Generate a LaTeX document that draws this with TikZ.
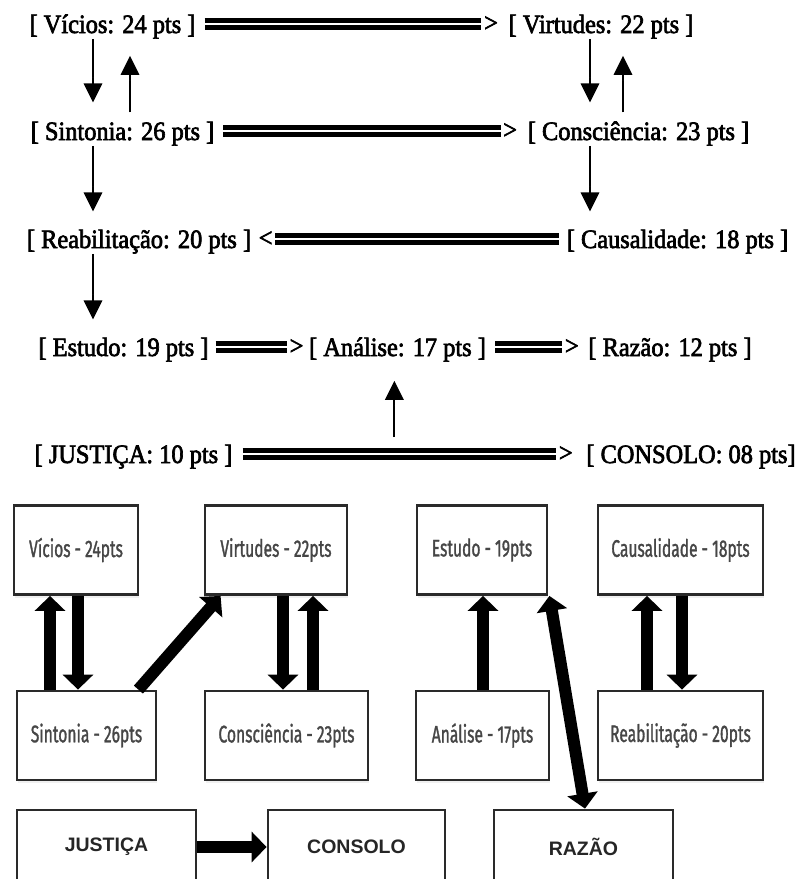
\documentclass[tikz,border=0pt]{standalone}
\usepackage{fontspec}
\usetikzlibrary{arrows.meta,shadows}

\newfontfamily\topfont[FakeStretch=0.92,FakeBold=2.5]{Liberation Serif}
\newfontfamily\boxfont[FakeStretch=0.65,FakeBold=1.2]{Fira Sans}
\newfontfamily\capfont{Liberation Sans}
\definecolor{boxline}{HTML}{2A2A2A}
\definecolor{boxtext}{HTML}{464646}

\tikzset{
  score/.style={font=\topfont\fontsize{26.5}{30}\selectfont, inner sep=0pt, anchor=base},
  gt/.style={font=\topfont\fontsize{26.5}{30}\selectfont, inner sep=0pt, anchor=west},
  lt/.style={gt, anchor=east},
  dline/.style={double, line width=5.4pt, double distance=1.7pt},
  tarrow/.style={line width=1.8pt,
    -{Triangle[length=0.1pt,width=0.1pt,sep=6pt,color=white] Triangle[length=19pt,width=18.5pt]}},
  card/.style={draw=boxline, line width=2.8pt, fill=white, minimum height=89pt,
    font=\boxfont\fontsize{24}{26}\selectfont, text=boxtext,
    drop shadow={opacity=0.12, shadow xshift=1pt, shadow yshift=-3pt}},
  bigcard/.style={card, minimum height=74pt, font=\capfont\bfseries\fontsize{19.5}{22}\selectfont, text=black!85},
  fat/.style={line width=12pt, -{Triangle[length=15pt,width=30pt]}},
  fatboth/.style={line width=12pt, {Triangle[length=15pt,width=30pt]}-{Triangle[length=15pt,width=30pt]}},
}

\begin{document}
\begin{tikzpicture}[x=1pt,y=-1pt]
  \useasboundingbox (0,0) rectangle (803,879);

  % scores, written out
  \node[score] (vicios)   at (112.5,33)  {[ Vícios: 24 pts ]};
  \node[score] (virtudes) at (601,33)    {[ Virtudes: 22 pts ]};
  \node[score] (sintonia) at (122.5,140) {[ Sintonia: 26 pts ]};
  \node[score] (consc)    at (638.5,140) {[ Consciência: 23 pts ]};
  \node[score] (reab)     at (139,248)   {[ Reabilitação: 20 pts ]};
  \node[score] (causal)   at (677.5,248) {[ Causalidade: 18 pts ]};
  \node[score] (estudo)   at (123.5,356) {[ Estudo: 19 pts ]};
  \node[score] (analise)  at (397.5,356) {[ Análise: 17 pts ]};
  \node[score] (razao)    at (670,356)   {[ Razão: 12 pts ]};
  \node[score] (justica)  at (133.5,463) {[ JUSTIÇA: 10 pts ]};
  \node[score] (consolo)  at (691,463)   {[ CONSOLO: 08 pts]};

  \coordinate (colA) at (93,0);
  \coordinate (colB) at (130,0);
  \coordinate (colC) at (590,0);
  \coordinate (colD) at (623,0);

  \draw[dline] ([xshift=9pt,yshift=9pt]vicios.base east) -- ([xshift=-27pt,yshift=9pt]virtudes.base west) node[gt] {>};
  \draw[dline] ([xshift=9pt,yshift=9pt]sintonia.base east) -- ([xshift=-27pt,yshift=9pt]consc.base west) node[gt] {>};
  \draw[dline] ([xshift=-8pt,yshift=9pt]causal.base west) -- ([xshift=24pt,yshift=9pt]reab.base east) node[lt] {<};
  \draw[dline] ([xshift=7pt,yshift=9pt]estudo.base east) -- ([xshift=-22pt,yshift=9pt]analise.base west) node[gt] {>};
  \draw[dline] ([xshift=9pt,yshift=9pt]analise.base east) -- ([xshift=-26pt,yshift=9pt]razao.base west) node[gt] {>};
  \draw[dline] ([xshift=10pt,yshift=9pt]justica.base east)
    -- coordinate[pos=0.484] (jcmid) ([xshift=-30pt,yshift=9pt]consolo.base west) node[gt] {>};

  \draw[tarrow] (vicios.south -| colA) -- ([yshift=19pt]sintonia.north -| colA);
  \draw[tarrow] ([yshift=9pt]sintonia.north -| colB) -- ([yshift=-17pt]vicios.south -| colB);
  \draw[tarrow] (virtudes.south -| colC) -- ([yshift=19pt]consc.north -| colC);
  \draw[tarrow] ([yshift=9pt]consc.north -| colD) -- ([yshift=-17pt]virtudes.south -| colD);
  \draw[tarrow] (sintonia.south -| colA) -- ([yshift=18pt]reab.north -| colA);
  \draw[tarrow] (consc.south -| colC) -- ([yshift=18pt]causal.north -| colC);
  \draw[tarrow] (reab.south -| colA) -- ([yshift=18pt]estudo.north -| colA);
  \draw[tarrow] ([yshift=17pt]jcmid) -- ([yshift=-19pt]analise.south -| jcmid);

  % boxes
  \node[card, minimum width=124pt] (bvicios)   at (76,550)      {Vícios - 24pts};
  \node[card, minimum width=142pt] (bvirtudes) at (276,550)     {Virtudes - 22pts};
  \node[card, minimum width=130pt] (bestudo)   at (482,550)     {Estudo - 19pts};
  \node[card, minimum width=165pt] (bcausal)   at (680.5,550)   {Causalidade - 18pts};
  \node[card, minimum width=139pt] (bsintonia) at (86.5,735.5)  {Sintonia - 26pts};
  \node[card, minimum width=163pt] (bconsc)    at (286.5,735.5) {Consciência - 23pts};
  \node[card, minimum width=133pt] (banalise)  at (482.5,735.5) {Análise - 17pts};
  \node[card, minimum width=165pt] (breab)     at (680.5,735.5) {Reabilitação - 20pts};
  \node[bigcard, minimum width=179pt] (bjustica) at (106.5,847) {JUSTIÇA};
  \node[bigcard, minimum width=177pt] (bconsolo) at (356.5,847) {CONSOLO};
  \node[bigcard, minimum width=179pt] (brazao)   at (583.5,847) {RAZÃO};

  \coordinate (c1) at (50,0);
  \coordinate (c2) at (78,0);
  \coordinate (c3) at (283,0);
  \coordinate (c4) at (313,0);
  \coordinate (c5) at (483,0);
  \coordinate (c6) at (647,0);
  \coordinate (c7) at (682,0);
  \coordinate (c8) at (585,0);

  \draw[fat] (bsintonia.north -| c1) -- (bvicios.south -| c1);
  \draw[fat] (bvicios.south -| c2) -- (bsintonia.north -| c2);
  \draw[fat] ([xshift=-19pt]bsintonia.north east) -- ([xshift=17pt]bvirtudes.south west);
  \draw[fat] (bvirtudes.south -| c3) -- (bconsc.north -| c3);
  \draw[fat] (bconsc.north -| c4) -- (bvirtudes.south -| c4);
  \draw[fat] (banalise.north -| c5) -- (bestudo.south -| c5);
  \draw[fatboth] ([xshift=1pt]bestudo.south east) -- (brazao.north -| c8);
  \draw[fat] (breab.north -| c6) -- (bcausal.south -| c6);
  \draw[fat] (bcausal.south -| c7) -- (breab.north -| c7);
  \draw[fat] (bjustica.east) -- (bconsolo.west);
\end{tikzpicture}
\end{document}
